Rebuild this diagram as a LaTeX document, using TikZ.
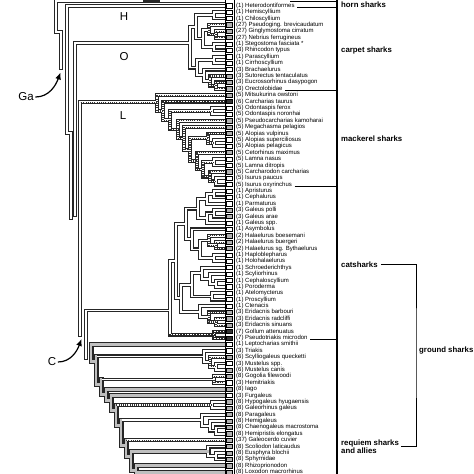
\documentclass[tikz,border=0pt]{standalone}
\usepackage{fontspec}
\setmainfont{Liberation Sans}
\usetikzlibrary{arrows.meta}

% branch paths: x in px, y in rows of the taxon list
\newcommand{\brWhite}{
  (224,-0.74) -- (56,-0.74) -- (56,4.12) -- (61,4.12) -- (61,9.75)
  (224,0) -- (67,0) -- (67,19.9) -- (71,19.9) -- (71,33.2)
  (190,5.85) -- (75,5.85) -- (75,32.7)
  (80,15.1) -- (80,51.5)
  (170,47.7) -- (86,47.7) -- (86,55.1)
  % carpet sharks
  (224,1) -- (214,1) -- (214,2) -- (224,2)
  (224,6) -- (214,6) -- (214,7) -- (224,7)
  (209,3.75) -- (203,3.75) -- (203,6.5) -- (214,6.5)
  (214,1.5) -- (196,1.5) -- (196,5.13) -- (203,5.13)
  (224,8) -- (214,8) -- (214,9) -- (224,9)
  (224,10) -- (204,10) -- (204,11.75) -- (210,11.75)
  (214,8.5) -- (197,8.5) -- (197,10.88) -- (204,10.88)
  (196,3.31) -- (190,3.31) -- (190,9.69) -- (197,9.69)
  % mackerel sharks
  (224,27) -- (216,27) -- (216,28) -- (224,28)
  (224,24) -- (214,24) -- (214,25) -- (224,25)
  (224,21) -- (214,21) -- (214,22) -- (224,22)
  (224,16) -- (212,16) -- (212,17) -- (224,17)
  % catsharks
  (224,29) -- (214,29) -- (214,30) -- (224,30)
  (214,29.5) -- (207,29.5) -- (207,31) -- (224,31)
  (224,32) -- (214,32) -- (214,33) -- (224,33)
  (214,32.5) -- (207,32.5) -- (207,34) -- (224,34)
  (207,30.25) -- (198,30.25) -- (198,33.25) -- (207,33.25)
  (224,39) -- (214,39) -- (214,40) -- (224,40)
  (209,36.75) -- (200,36.75) -- (200,39.5) -- (214,39.5)
  (224,35) -- (192,35) -- (192,38.13) -- (200,38.13)
  (198,31.75) -- (186,31.75) -- (186,36.56) -- (192,36.56)
  (224,43) -- (216,43) -- (216,44) -- (224,44)
  (224,42) -- (210,42) -- (210,43.5) -- (216,43.5)
  (224,41) -- (202,41) -- (202,42.75) -- (210,42.75)
  (224,45) -- (212,45) -- (212,46) -- (224,46)
  (202,41.88) -- (192,41.88) -- (192,45.5) -- (212,45.5)
  (224,47) -- (200,47) -- (200,48.75) -- (209,48.75)
  (192,43.69) -- (181,43.69) -- (181,47.88) -- (200,47.88)
  (186,34.16) -- (176,34.16) -- (176,45.78) -- (181,45.78)
  (176,39.97) -- (170,39.97) -- (170,51.5)
  % ground sharks
  (224,56) -- (216,56) -- (216,57) -- (224,57)
  (224,54) -- (204,54) -- (204,55.75) -- (210,55.75)
  (224,66) -- (216,66) -- (216,67) -- (224,67)
  (224,65) -- (210,65) -- (210,66.5) -- (216,66.5)
  (224,64) -- (202,64) -- (202,65.75) -- (210,65.75)
  (224,70) -- (216,70) -- (216,71) -- (224,71)
  (224,69) -- (208,69) -- (208,70.5) -- (216,70.5)
  (224,62) -- (212,62) -- (212,63) -- (224,63)
  (204,54.88) -- (96,54.88)
  (214,58.5) -- (101,58.5)
  (202,64.88) -- (121,64.88)
}
\newcommand{\brStip}{
  (224,4) -- (216,4) -- (216,5) -- (224,5)
  (224,3) -- (209,3) -- (209,4.5) -- (216,4.5)
  (224,12) -- (216,12) -- (216,13) -- (224,13)
  (224,11) -- (210,11) -- (210,12.5) -- (216,12.5)
  (157,15.1) -- (80,15.1)
  (224,14) -- (157,14) -- (157,16.47) -- (163,16.47)
  (163,15) -- (163,17.94) -- (170,17.94)
  (212,16.5) -- (170,16.5) -- (170,19.38) -- (178,19.38)
  (224,18) -- (178,18) -- (178,20.77) -- (184,20.77)
  (224,19) -- (184,19) -- (184,22.53) -- (190,22.53)
  (208,20.75) -- (190,20.75) -- (190,24.31) -- (197,24.31)
  (224,20) -- (208,20) -- (208,21.5) -- (214,21.5)
  (224,23) -- (197,23) -- (197,25.63) -- (203,25.63)
  (214,24.5) -- (203,24.5) -- (203,26.75) -- (210,26.75)
  (224,26) -- (210,26) -- (210,27.5) -- (216,27.5)
  (224,37) -- (216,37) -- (216,38) -- (224,38)
  (224,36) -- (209,36) -- (209,37.5) -- (216,37.5)
  (224,49) -- (216,49) -- (216,50) -- (224,50)
  (224,48) -- (209,48) -- (209,49.5) -- (216,49.5)
  (224,55) -- (210,55) -- (210,56.5) -- (216,56.5)
  (224,58) -- (214,58) -- (214,59) -- (224,59)
  (212,62.5) -- (116,62.5)
  (224,68) -- (126,68)
}
\newcommand{\brDark}{
  (224,15) -- (163,15)
  (224,51) -- (214,51) -- (214,52) -- (224,52)
  (214,51.5) -- (170,51.5)
}
\newcommand{\brGrey}{
  (224,53) -- (91,53) -- (91,55.68) -- (96,55.68)
  (96,54.88) -- (96,59.3) -- (101,59.3)
  (101,58.5) -- (101,60.8) -- (106,60.8)
  (224,60) -- (106,60) -- (106,61.8) -- (111,61.8)
  (224,61) -- (111,61) -- (111,63.3) -- (116,63.3)
  (116,62.5) -- (116,65.68) -- (121,65.68)
  (121,64.88) -- (121,68.8) -- (126,68.8)
  (126,68) -- (126,70.55) -- (131,70.55)
  (208,69.75) -- (131,69.75) -- (131,72.8) -- (136,72.8)
  (224,72) -- (136,72) -- (136,73) -- (224,73)
}

\begin{document}
\begin{tikzpicture}[x=1pt, y=-6.39pt,
    rim/.style={line width=3.9pt, line cap=rect, line join=miter, black!85},
    rimgrey/.style={line width=5pt, line cap=rect, line join=miter, black!85},
    core/.style={line width=1.7pt, line cap=rect, line join=miter, white},
    coregrey/.style={line width=2.9pt, line cap=rect, line join=miter, gray!50},
    coredark/.style={line width=1.7pt, line cap=rect, line join=miter, black!85},
    stip/.style={line width=1.2pt, dash pattern=on 1.1pt off 1.1pt, black!80},
    stipdark/.style={line width=0.8pt, dash pattern=on 1.4pt off 1.4pt, white},
    cell/.style={draw, line width=0.6pt, fill=white, minimum width=6.2pt, minimum height=4.2pt, inner sep=0pt},
    taxon/.style={anchor=west, inner sep=0pt, font=\fontsize{6}{6.2}\selectfont},
    group/.style={anchor=west, inner sep=0pt, align=left, font=\fontsize{7.8}{8.3}\selectfont\bfseries},
    cladeid/.style={inner sep=0pt, font=\fontsize{11.5}{12}\selectfont},
    pointer/.style={-{Latex[length=7pt, width=6pt]}, line width=1.2pt},
    tick/.style={line width=0.9pt}
]
\useasboundingbox (0,-0.892) rectangle (474,73.286);

% tree: outlines first, then the insides
\draw[rim] \brWhite \brStip \brDark;
\draw[rimgrey] \brGrey;
\draw[core] \brWhite \brStip;
\draw[coregrey] \brGrey;
\draw[coredark] \brDark;
\draw[stip] \brStip;
\draw[stipdark] \brDark;
\draw[line width=2.8pt, black!85] (143,-0.74) -- (160,-0.74);

% character column
\draw[line width=1pt] (225,-0.9) -- (225,73.3);
\draw[line width=1pt] (234,-0.9) -- (234,73.3);

\foreach \n/\t [count=\i from 0] in {
  1/Heterodontiformes, 1/Hemiscyllium, 1/Chiloscyllium,
  27/Pseudoging. brevicaudatum, 27/Ginglymostoma cirratum,
  27/Nebrius ferrugineus, 1/Stegostoma fasciata *, 3/Rhincodon typus,
  1/Parascyllium, 1/Cirrhoscyllium, 3/Brachaelurus,
  3/Sutorectus tentaculatus, 3/Eucrossorhinus dasypogon, 3/Orectolobidae,
  5/Mitsukurina owstoni, 6/Carcharias taurus, 5/Odontaspis ferox,
  5/Odontaspis noronhai, 5/Pseudocarcharias kamoharai,
  5/Megachasma pelagios, 5/Alopias vulpinus, 5/Alopias superciliosus,
  5/Alopias pelagicus, 5/Cetorhinus maximus, 5/Lamna nasus,
  5/Lamna ditropis, 5/Carcharodon carcharias, 5/Isurus paucus,
  5/Isurus oxyrinchus, 1/Apristurus, 1/Cephalurus, 1/Parmaturus,
  3/Galeus polli, 3/Galeus arae, 1/Galeus spp., 1/Asymbolus,
  2/Halaelurus boesemani, 2/Halaelurus buergeri,
  2/Halaelurus sg. Bythaelurus, 1/Haploblepharus, 1/Holohalaelurus,
  1/Schroederichthys, 1/Scyliorhinus, 1/Cephaloscyllium, 1/Poroderma,
  1/Atelomycterus, 1/Proscyllium, 1/Ctenacis, 3/Eridacnis barbouri,
  3/Eridacnis radcliffi, 3/Eridacnis sinuans, 7/Gollum attenuatus,
  7/Pseudotriakis microdon, 1/Leptocharias smithii, 3/Triakis,
  6/Scylliogaleus quecketti, 3/Mustelus spp., 6/Mustelus canis,
  8/Gogolia filewoodi, 3/Hemitriakis, 8/Iago, 3/Furgaleus,
  8/Hypogaleus hyugaensis, 8/Galeorhinus galeus, 8/Paragaleus,
  8/Hemigaleus, 8/Chaenogaleus macrostoma, 8/Hemipristis elongatus,
  37/Galeocerdo cuvier, 8/Scoliodon laticaudus, 8/Eusphyra blochii,
  8/Sphyrnidae, 8/Rhizoprionodon, 8/Loxodon macrorhinus} {
  \node[cell] (c\i) at (229.5,\i) {};
  \node[taxon] (t\i) at (236,\i) {(\n) \t};
}
\foreach \i in {3,4,5,11,12,13,14,18,19,20,23,26,32,33,36,37,38,48,49,50,
                55,57,58,60,62,63,64,65,66,67,68,69,70,71,72,73}
  \node[cell, fill=gray!60] (g\i) at (c\i) {};
\foreach \i in {15,51,52}
  \node[cell, fill=black!80] (k\i) at (c\i) {};

% clade letters and arrows
\node[cladeid] (hlbl) at (124,1.77) {H};
\node[cladeid] (olbl) at (124,8.03) {O};
\node[cladeid] (llbl) at (123,17.26) {L};
\node[cladeid] (galbl) at (26,14.29) {Ga};
\coordinate (ganode) at (60.5,10.45);
\draw[pointer] ([xshift=1.5pt]galbl.east) to[out=0, in=-110] (ganode);
\node[cladeid] (clbl) at (52,55.76) {C};
\coordinate (cnode) at (81.5,52.15);
\draw[pointer] ([xshift=1.5pt]clbl.east) to[out=0, in=-110] (cnode);

% brackets on the right
\coordinate (bartop) at (337,-0.9);
\coordinate (barbot) at (337,73.3);
\draw[line width=1.1pt] (bartop) -- (barbot);
\coordinate (tk) at (290,-0.6);
\draw[tick] (tk) -- (tk -| bartop);
\foreach \i in {0,13,28,52}
  \draw[tick] ([xshift=2.5pt]t\i.base east) -- (t\i.base east -| bartop);

\node[group] (horn) at (341,-0.1) {horn sharks};
\node[group] (carpet) at (341,6.93) {carpet sharks};
\node[group] (mack) at (341,20.86) {mackerel sharks};
\node[group] (cats) at (341,40.5) {catsharks};
\node[group] (req) at (341,69.05) {requiem sharks\\and allies};
\node[group] (ground) at (419,53.9) {ground sharks};
\coordinate (gs) at (416,54);
\draw[tick] ([xshift=3pt]cats.east) -| (gs) |- ([xshift=2pt]req.east);
\end{tikzpicture}
\end{document}
